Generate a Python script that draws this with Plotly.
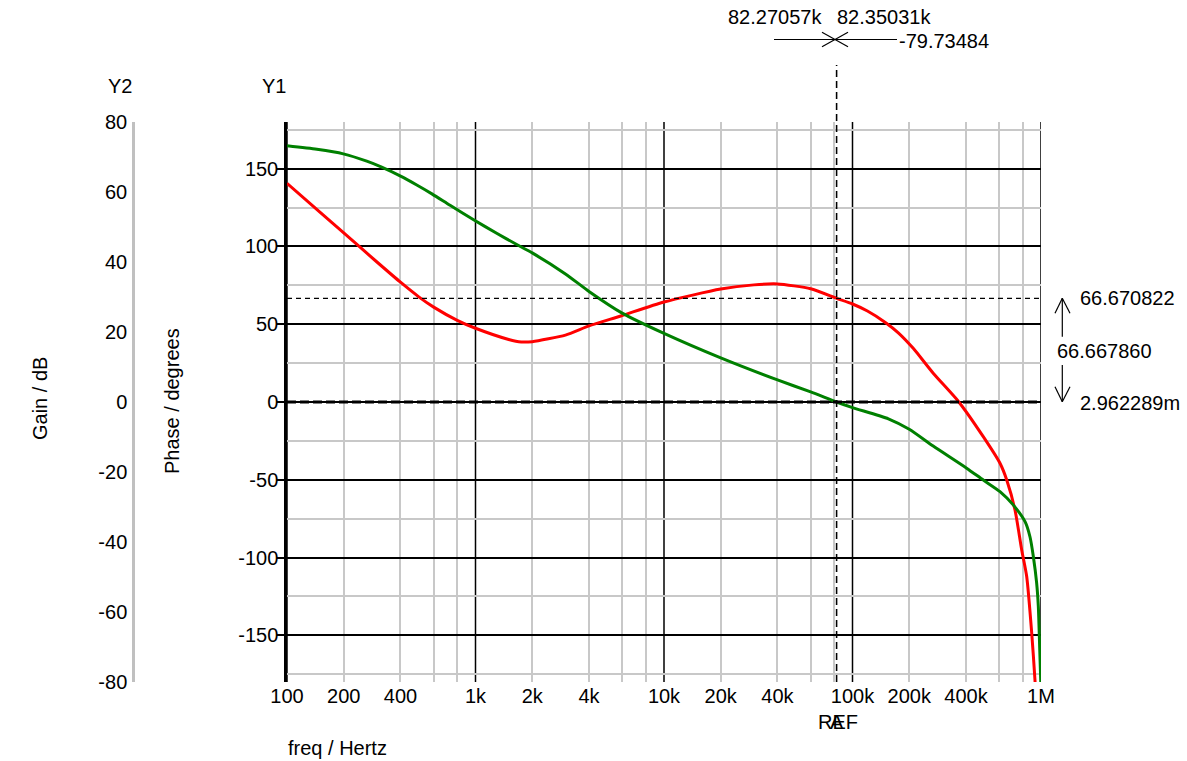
import plotly.graph_objects as go

# ---------------- data ----------------
freq_gain = [100, 144, 199, 265, 318, 398, 488, 590, 733, 982, 1295, 1655, 2e3, 3e3, 4e3, 6e3, 1e4,
             2e4, 4e4, 6e4, 82.3e3, 1e5, 155e3, 200e3, 268e3, 403e3, 494e3, 606e3, 712e3,
             823e3, 874e3, 911e3, 948e3, 968e3, 985e3, 1e6]
gain_db = [73.2, 72.2, 70.9, 68.8, 67.1, 64.6, 62.0, 59.4, 56.2, 52.0, 48.2, 45.0, 42.6, 36.6, 31.6, 25.4, 19.6,
           12.6, 6.3, 2.9, 0.0, -1.6, -4.8, -7.8, -12.6, -18.9, -22.3, -25.6, -29.4,
           -34.2, -38.5, -44.2, -51.7, -58.5, -70.9, -82.0]

freq_phase = [100, 150, 200, 300, 400, 500, 600, 800, 1e3, 1.5e3, 1.75e3, 2e3, 3e3, 4e3, 5.9e3, 1e4, 2e4,
              3e4, 4e4, 6e4, 82.3e3, 1e5, 120e3, 150e3, 175e3, 210e3, 268e3, 364e3, 494e3,
              606e3, 658e3, 728e3, 790e3, 840e3, 893e3, 929e3, 950e3]
phase_deg = [140.6, 121.9, 108.7, 90.0, 77.0, 67.6, 61.0, 52.5, 47.4, 40.2, 38.6, 38.8, 43.0, 48.9, 55.3, 64.3, 72.6,
             75.3, 75.9, 72.8, 66.67, 63.0, 58.5, 51.0, 44.5, 34.5, 18.5, 0.5, -22.3,
             -39.4, -50.1, -69.4, -95.1, -112.3, -148.7, -178.7, -200.0]

x_tick_vals = [100, 200, 400, 1e3, 2e3, 4e3, 1e4, 2e4, 4e4, 1e5, 2e5, 4e5, 1e6]
x_tick_text = ["100", "200", "400", "1k", "2k", "4k", "10k", "20k", "40k", "100k", "200k", "400k", "1M"]
x_decades = [100, 1e3, 1e4, 1e5, 1e6]
x_minor = [m * d for d in [100, 1e3, 1e4, 1e5] for m in (2, 4, 6, 8)]

y1_ticks = [-150, -100, -50, 0, 50, 100, 150]
y1_minor = [-175, -125, -75, -25, 25, 75, 125, 175]
y2_ticks = [-80, -60, -40, -20, 0, 20, 40, 60, 80]

cursor_a = 82.27057e3
cursor_b = 82.35031e3
cursor_a_text = "82.27057k"
cursor_b_text = "82.35031k"
cursor_diff_text = "-79.73484"
phase_at_cursor = 66.670822
phase_ref = 2.962289e-3
meas_top_text = "66.670822"
meas_diff_text = "66.667860"
meas_bot_text = "2.962289m"

# ---------------- layout helpers ----------------
W, H = 1187, 761
L, R, T, B = 0, 146, 122, 79
PW, PH = W - L - R, H - T - B


def px(x):
    return (x - L) / PW


def py(y):
    return (H - B - y) / PH


FONT = "Liberation Sans, Arial, sans-serif"
FS = 20
BLACK = "#000000"
GRAY = "#c8c8c8"

fig = go.Figure()
fig.add_trace(go.Scatter(x=freq_phase, y=phase_deg, mode="lines", xaxis="x", yaxis="y",
                         line=dict(color="#ff0000", width=3, shape="spline", smoothing=0.6),
                         showlegend=False, hoverinfo="skip"))
fig.add_trace(go.Scatter(x=freq_gain, y=gain_db, mode="lines", xaxis="x", yaxis="y2",
                         line=dict(color="#008000", width=3, shape="spline", smoothing=0.6),
                         showlegend=False, hoverinfo="skip"))

shapes = []
for d in x_decades:
    shapes.append(dict(type="line", xref="x", yref="y domain", x0=d, x1=d, y0=0, y1=1,
                       line=dict(color=BLACK, width=1.5), layer="below"))
# dashed measurement lines
shapes.append(dict(type="line", xref="x domain", yref="y", x0=0, x1=1, y0=phase_at_cursor, y1=phase_at_cursor,
                   line=dict(color=BLACK, width=1.2, dash="5px,4px"), layer="above"))
shapes.append(dict(type="line", xref="x domain", yref="y", x0=0, x1=1, y0=phase_ref, y1=phase_ref,
                   line=dict(color=BLACK, width=2.8, dash="9px,4px"), layer="above"))
# cursors
for c in (cursor_a, cursor_b):
    shapes.append(dict(type="line", xref="x", yref="paper", x0=c, x1=c, y0=0, y1=py(65),
                       line=dict(color=BLACK, width=1.3, dash="7px,4px")))
# top cursor marker
shapes.append(dict(type="line", xref="paper", yref="paper", x0=px(774), x1=px(897), y0=py(39.5), y1=py(39.5),
                   line=dict(color=BLACK, width=1.2)))
shapes.append(dict(type="line", xref="paper", yref="paper", x0=px(822), x1=px(848), y0=py(32.3), y1=py(46.7),
                   line=dict(color=BLACK, width=1.2)))
shapes.append(dict(type="line", xref="paper", yref="paper", x0=px(822), x1=px(848), y0=py(46.7), y1=py(32.3),
                   line=dict(color=BLACK, width=1.2)))
# right arrows
ax_ = 1062.3
for seg in [((ax_, 298.3), (ax_, 336.7)), ((1055, 313.3), (ax_, 298.3)), ((1070, 313.3), (ax_, 298.3)),
            ((ax_, 365), (ax_, 401.7)), ((1055, 386.7), (ax_, 401.7)), ((1070, 386.7), (ax_, 401.7))]:
    (xa, ya), (xb, yb) = seg
    shapes.append(dict(type="line", xref="paper", yref="paper", x0=px(xa), x1=px(xb), y0=py(ya), y1=py(yb),
                       line=dict(color=BLACK, width=1.2)))

ann = []


def text(t, x, y, xanchor="center", angle=0):
    ann.append(dict(text=t, xref="paper", yref="paper", x=px(x), y=py(y), xanchor=xanchor,
                    yanchor="middle", showarrow=False, textangle=angle,
                    font=dict(family=FONT, size=FS, color=BLACK)))


text(cursor_a_text, 775, 17)
text(cursor_b_text, 884, 17)
text(cursor_diff_text, 897, 41, "left")
text("Y2", 120, 86)
text("Y1", 274, 86)
text("Gain / dB", 40, 399, angle=-90)
text("Phase / degrees", 172, 401, angle=-90)
text("freq / Hertz", 286, 748, "left")
text("REF", 838, 722)
text("A", 837, 722)
text(meas_top_text, 1078, 298, "left")
text(meas_diff_text, 1055, 351, "left")
text(meas_bot_text, 1078, 403, "left")

fig.update_layout(
    width=W, height=H,
    margin=dict(l=L, r=R, t=T, b=B, pad=0, autoexpand=False),
    paper_bgcolor="white", plot_bgcolor="white",
    font=dict(family=FONT, size=FS, color=BLACK),
    showlegend=False,
    xaxis=dict(type="log", range=[2, 6], domain=[px(287), 1], anchor="y", automargin=False,
               tickmode="array", tickvals=x_tick_vals, ticktext=x_tick_text,
               showgrid=False, zeroline=False, showline=False, ticks="",
               ticklabelstandoff=0,
               tickfont=dict(family=FONT, size=FS, color=BLACK),
               minor=dict(tickvals=x_minor, showgrid=True, gridcolor=GRAY, gridwidth=1.5, ticks="")),
    yaxis=dict(range=[-180, 180], anchor="x", tickmode="array", tickvals=y1_ticks, automargin=False,
               ticktext=[str(v) for v in y1_ticks],
               showgrid=True, gridcolor=BLACK, gridwidth=1.5, zeroline=False,
               showline=True, linecolor=BLACK, linewidth=2.5,
               ticks="outside", ticklen=7, tickwidth=1.5, tickcolor=BLACK,
               ticklabelstandoff=-5,
               tickfont=dict(family=FONT, size=FS, color=BLACK),
               minor=dict(tickvals=y1_minor, showgrid=True, gridcolor=GRAY, gridwidth=1.5, ticks="")),
    yaxis2=dict(range=[-80, 80], overlaying="y", anchor="free", position=px(133), side="left",
                automargin=False,
                tickmode="array", tickvals=y2_ticks, ticktext=[str(v) for v in y2_ticks],
                showgrid=False, zeroline=False,
                showline=True, linecolor="#c0c0c0", linewidth=2.5, ticks="",
                ticklabelstandoff=1,
                tickfont=dict(family=FONT, size=FS, color=BLACK)),
    shapes=shapes,
    annotations=ann,
)

fig.write_html("out.html", config={"displayModeBar": False},
               post_script="document.body.style.margin='0px';document.body.style.overflow='hidden';")
